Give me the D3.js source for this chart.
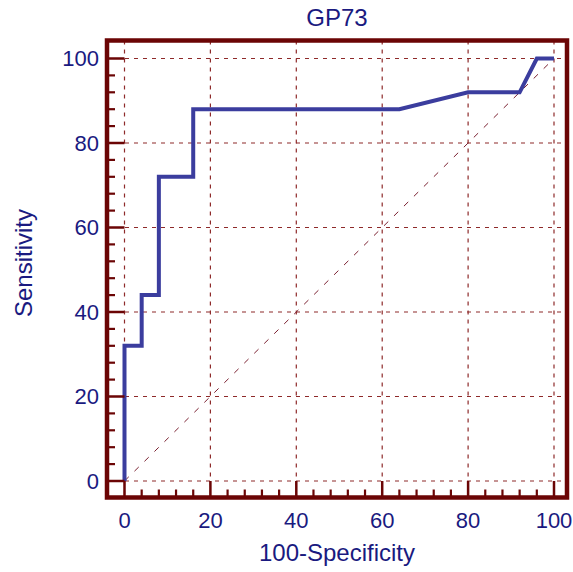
<!DOCTYPE html>
<html><head><meta charset="utf-8">
<script src="https://cdn.jsdelivr.net/npm/d3@7"></script>
<style>html,body{margin:0;padding:0;background:#fff;}svg{display:block;}</style>
</head><body>
<script>
const chartTitle = "GP73";
const xTitle = "100-Specificity";
const yTitle = "Sensitivity";
const rocX = [0, 0, 4, 4, 8, 8, 16, 16, 64, 80, 92, 96, 100];
const rocY = [0, 32, 32, 44, 44, 72, 72, 88, 88, 92, 92, 100, 100];
const majorTicks = [0, 20, 40, 60, 80, 100];
const minorTicks = d3.range(0, 101, 4).filter(v => v % 20 !== 0);
const diagonal = [0, 100];

const W = 573, H = 572;
const frame = {l: 107, r: 567, t: 40.5, b: 497.5};
const x = d3.scaleLinear().domain([0, 100]).range([124.5, 554]);
const y = d3.scaleLinear().domain([0, 100]).range([481, 58.5]);

const svg = d3.select("body").append("svg").attr("width", W).attr("height", H);
const dark = "#6b0505";
const gridCol = "#8e2a2a";
const textCol = "#1a1a80";
const font = "Liberation Sans, Arial, sans-serif";

// grid
const g = svg.append("g");
g.selectAll(".hg").data(majorTicks).join("line")
  .attr("x1", frame.l).attr("x2", frame.r)
  .attr("y1", d => y(d)).attr("y2", d => y(d))
  .attr("stroke", gridCol).attr("stroke-width", 1.2).attr("stroke-dasharray", "4,5");
g.selectAll(".vg").data(majorTicks).join("line")
  .attr("y1", frame.t).attr("y2", frame.b)
  .attr("x1", d => x(d)).attr("x2", d => x(d))
  .attr("stroke", gridCol).attr("stroke-width", 1.2).attr("stroke-dasharray", "4,5");

// diagonal
svg.append("line")
  .attr("x1", x(diagonal[0])).attr("y1", y(diagonal[0]))
  .attr("x2", x(diagonal[1])).attr("y2", y(diagonal[1]))
  .attr("stroke", "#7a1f2f").attr("stroke-width", 1).attr("stroke-dasharray", "6,8");

// ROC curve
const pts = rocX.map((v, i) => [v, rocY[i]]);
svg.append("path").datum(pts)
  .attr("d", d3.line().x(d => x(d[0])).y(d => y(d[1])))
  .attr("fill", "none").attr("stroke", "#3b3d9e").attr("stroke-width", 4)
  .attr("stroke-linejoin", "miter");

// ticks
const tk = svg.append("g").attr("stroke", dark);
tk.selectAll(".ymaj").data(majorTicks).join("line")
  .attr("x1", frame.l).attr("x2", x(0)).attr("y1", d => y(d)).attr("y2", d => y(d)).attr("stroke-width", 2.5);
tk.selectAll(".ymin").data(minorTicks).join("line")
  .attr("x1", frame.l).attr("x2", frame.l + 8).attr("y1", d => y(d)).attr("y2", d => y(d)).attr("stroke-width", 2.2);
tk.selectAll(".xmaj").data(majorTicks).join("line")
  .attr("y1", frame.b).attr("y2", y(0)).attr("x1", d => x(d)).attr("x2", d => x(d)).attr("stroke-width", 2.5);
tk.selectAll(".xmin").data(minorTicks).join("line")
  .attr("y1", frame.b).attr("y2", frame.b - 8).attr("x1", d => x(d)).attr("x2", d => x(d)).attr("stroke-width", 2.2);

// frame
svg.append("rect")
  .attr("x", frame.l).attr("y", frame.t)
  .attr("width", frame.r - frame.l).attr("height", frame.b - frame.t)
  .attr("fill", "none").attr("stroke", dark).attr("stroke-width", 4.5);

// tick labels
svg.selectAll(".yl").data(majorTicks).join("text")
  .attr("x", 99).attr("y", d => y(d)).attr("dy", "0.35em")
  .attr("text-anchor", "end").attr("font-family", font).attr("font-size", 22)
  .attr("fill", textCol).text(d => d);
svg.selectAll(".xl").data(majorTicks).join("text")
  .attr("x", d => x(d)).attr("y", 528)
  .attr("text-anchor", "middle").attr("font-family", font).attr("font-size", 22)
  .attr("fill", textCol).text(d => d);

// titles
svg.append("text").attr("x", 337).attr("y", 26).attr("text-anchor", "middle")
  .attr("font-family", font).attr("font-size", 24).attr("fill", textCol).text(chartTitle);
svg.append("text").attr("x", 337).attr("y", 561).attr("text-anchor", "middle")
  .attr("font-family", font).attr("font-size", 24).attr("fill", textCol).text(xTitle);
svg.append("text").attr("transform", "translate(32,263) rotate(-90)").attr("text-anchor", "middle")
  .attr("font-family", font).attr("font-size", 24).attr("fill", textCol).text(yTitle);
</script>
</body></html>
